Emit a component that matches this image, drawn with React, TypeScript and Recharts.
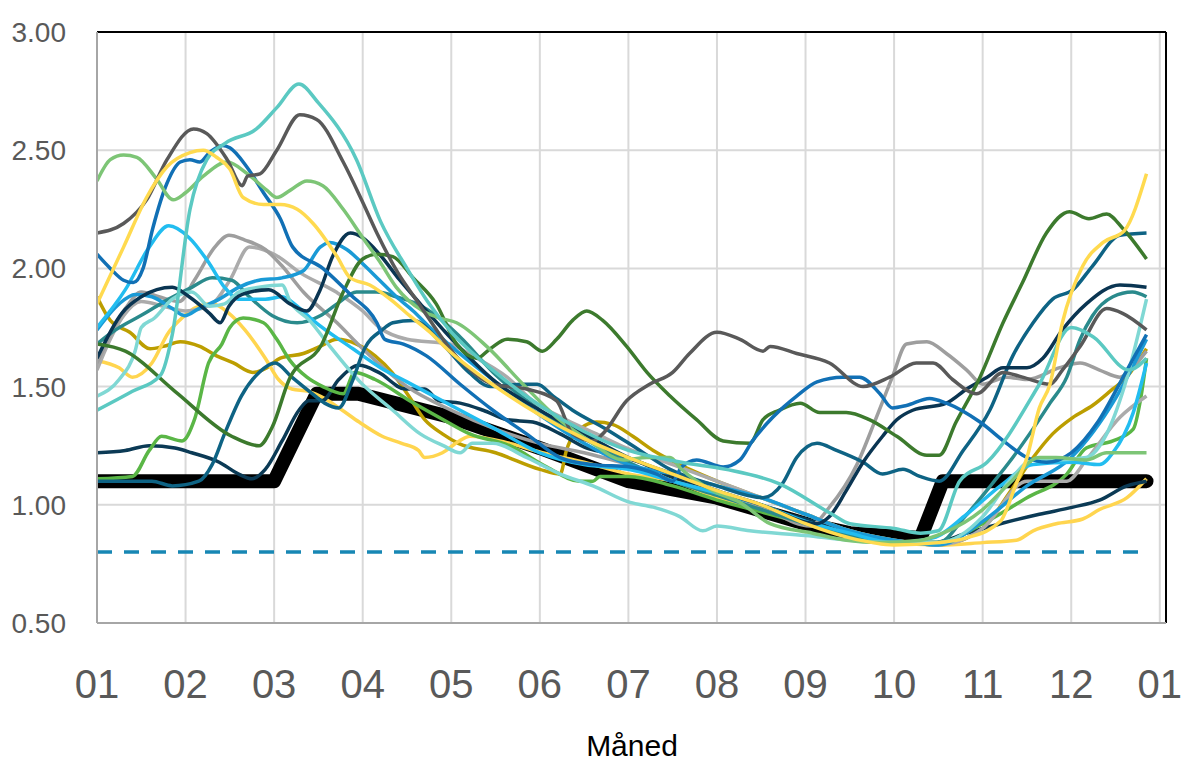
import { CartesianGrid, Line, LineChart, ReferenceLine, XAxis, YAxis } from "recharts"

// month index (0 = 01) -> value
type Pt = [number, number]

const monthTicks = [0, 1, 2, 3, 4, 5, 6, 7, 8, 9, 10, 11, 12]
const monthLabels = ["01", "02", "03", "04", "05", "06", "07", "08", "09", "10", "11", "12", "01"]
const valueTicks = [0.5, 1, 1.5, 2, 2.5, 3]

const threshold: Pt[] = [[0, 0.8], [11.85, 0.8]]

const normal: Pt[] = [
  [0, 1.1], [2.0, 1.1], [2.48, 1.47], [2.95, 1.47], [4.0, 1.37], [5.0, 1.24], [6.0, 1.1],
  [7.0, 1.03], [8.0, 0.92], [8.5, 0.88], [9.3, 0.86], [9.55, 1.1], [11.85, 1.1],
]

const turquoise: Pt[] = [
  [0, 1.4], [0.4, 1.48], [0.72, 1.55], [0.85, 1.72], [1.05, 2.25], [1.24, 2.46], [1.45, 2.53],
  [1.8, 2.59], [2.03, 2.68], [2.28, 2.78], [2.5, 2.7], [2.93, 2.46], [3.2, 2.2], [3.5, 2.0],
  [3.75, 1.85], [4.0, 1.73], [4.5, 1.56], [5.0, 1.42], [5.5, 1.31], [6.0, 1.23], [6.6, 1.18],
  [7.1, 1.15], [7.7, 1.09], [8.3, 0.96], [8.5, 0.92], [9.0, 0.9], [9.3, 0.88], [9.5, 0.89],
  [9.74, 1.1], [10.05, 1.18], [10.64, 1.51], [11.0, 1.75], [11.25, 1.71], [11.65, 1.57], [11.85, 1.62],
]

const darkGray: Pt[] = [
  [0, 2.15], [0.3, 2.19], [0.56, 2.29], [0.79, 2.46], [1.09, 2.59], [1.24, 2.57], [1.47, 2.46],
  [1.64, 2.35], [1.7, 2.39], [1.84, 2.4], [2.03, 2.5], [2.29, 2.65], [2.48, 2.63], [2.78, 2.45],
  [3.0, 2.28], [3.16, 2.15], [3.4, 1.98], [3.6, 1.87], [4.1, 1.61], [4.47, 1.51], [4.85, 1.49],
  [5.19, 1.44], [5.37, 1.3], [5.6, 1.27], [5.71, 1.3], [5.98, 1.44], [6.24, 1.51], [6.5, 1.56],
  [6.69, 1.64], [7.0, 1.73], [7.26, 1.7], [7.52, 1.65], [7.6, 1.67], [7.9, 1.64], [8.27, 1.6],
  [8.65, 1.5], [8.95, 1.54], [9.25, 1.6], [9.44, 1.6], [9.66, 1.53], [9.93, 1.47], [10.23, 1.56],
  [10.45, 1.54], [10.76, 1.51], [10.9, 1.57], [11.1, 1.67], [11.4, 1.83], [11.58, 1.81], [11.85, 1.74],
]

const lightGreen: Pt[] = [
  [0, 2.37], [0.15, 2.46], [0.3, 2.48], [0.45, 2.47], [0.67, 2.38], [0.86, 2.29], [1.0, 2.32],
  [1.2, 2.39], [1.47, 2.45], [1.7, 2.4], [1.92, 2.33], [2.03, 2.3], [2.18, 2.33], [2.37, 2.37],
  [2.55, 2.35], [2.78, 2.25], [3.0, 2.13], [3.19, 2.03], [3.38, 1.92], [3.68, 1.82], [3.87, 1.79],
  [4.06, 1.77], [4.4, 1.67], [4.81, 1.51], [5.19, 1.37], [5.56, 1.27], [5.94, 1.19], [6.21, 1.2],
  [6.47, 1.2], [6.6, 1.15], [6.95, 1.06], [7.26, 1.01], [7.6, 0.92], [8.08, 0.88], [8.46, 0.85],
  [8.84, 0.84], [9.3, 0.85], [9.55, 0.88], [10.0, 0.98], [10.3, 1.09], [10.64, 1.2], [10.83, 1.2],
  [11.17, 1.19], [11.4, 1.22], [11.85, 1.22],
]

const yellow: Pt[] = [
  [0, 1.85], [0.3, 2.09], [0.56, 2.3], [0.79, 2.43], [1.05, 2.49], [1.2, 2.5], [1.35, 2.47],
  [1.5, 2.42], [1.65, 2.3], [1.88, 2.27], [2.07, 2.27], [2.26, 2.25], [2.44, 2.19], [2.71, 2.05],
  [2.86, 1.96], [3.08, 1.93], [3.31, 1.87], [3.53, 1.8], [3.76, 1.73], [3.95, 1.66], [4.5, 1.5],
  [5.0, 1.38], [5.5, 1.28], [6.0, 1.2], [6.5, 1.13], [7.0, 1.06], [7.5, 1.0], [8.0, 0.92],
  [8.5, 0.86], [9.0, 0.83], [9.5, 0.84], [9.82, 0.86], [10.2, 0.93], [10.38, 1.09], [10.5, 1.2],
  [10.64, 1.41], [10.76, 1.51], [10.9, 1.77], [11.13, 2.01], [11.36, 2.11], [11.6, 2.16], [11.85, 2.4],
]

const paleYellow: Pt[] = [
  [0, 1.61], [0.25, 1.58], [0.4, 1.54], [0.62, 1.6], [0.81, 1.73], [0.93, 1.78], [1.15, 1.84],
  [1.3, 1.85], [1.49, 1.81], [1.67, 1.74], [1.9, 1.62], [2.05, 1.53], [2.2, 1.49], [2.39, 1.48],
  [2.57, 1.45], [2.77, 1.4], [2.96, 1.35], [3.22, 1.29], [3.44, 1.26], [3.63, 1.23], [3.7, 1.2],
  [3.9, 1.22], [4.09, 1.27], [4.21, 1.29], [4.66, 1.26], [5.03, 1.22], [5.5, 1.18], [6.0, 1.13],
  [6.5, 1.1], [7.0, 1.03], [7.5, 0.98], [8.0, 0.92], [8.5, 0.88], [9.0, 0.84], [9.5, 0.83],
  [10.0, 0.84], [10.38, 0.85], [10.57, 0.89], [10.83, 0.92], [11.13, 0.94], [11.32, 0.98],
  [11.63, 1.03], [11.85, 1.11],
]

const blue: Pt[] = [
  [0, 2.06], [0.15, 2.0], [0.3, 1.95], [0.41, 1.94], [0.52, 2.0], [0.63, 2.17], [0.79, 2.36],
  [0.94, 2.45], [1.05, 2.46], [1.16, 2.45], [1.27, 2.49], [1.42, 2.52], [1.5, 2.51], [1.69, 2.43],
  [1.88, 2.32], [2.07, 2.21], [2.21, 2.09], [2.55, 2.0], [2.86, 1.89], [3.16, 1.77], [3.25, 1.7],
  [3.46, 1.68], [3.72, 1.63], [4.1, 1.51], [4.47, 1.4], [4.85, 1.3], [5.23, 1.2], [5.6, 1.17],
  [6.02, 1.16], [6.32, 1.13], [6.5, 1.1], [6.6, 1.16], [6.77, 1.19], [7.07, 1.16], [7.26, 1.19],
  [7.4, 1.27], [7.63, 1.37], [7.9, 1.46], [8.13, 1.52], [8.42, 1.54], [8.61, 1.54], [8.84, 1.47],
  [8.98, 1.41], [9.14, 1.42], [9.4, 1.45], [9.59, 1.43], [9.97, 1.35], [10.27, 1.26], [10.5, 1.2],
  [10.72, 1.18], [11.0, 1.22], [11.3, 1.35], [11.6, 1.55], [11.85, 1.72],
]

const skyBlue: Pt[] = [
  [0, 1.75], [0.32, 1.91], [0.59, 2.09], [0.81, 2.18], [1.04, 2.13], [1.27, 2.02], [1.44, 1.92],
  [1.6, 1.87], [1.9, 1.87], [2.09, 1.88], [2.26, 1.84], [2.44, 1.78], [2.89, 1.66], [3.2, 1.58],
  [3.5, 1.52], [4.0, 1.42], [4.5, 1.32], [5.0, 1.22], [5.5, 1.17], [6.0, 1.15], [6.5, 1.1],
  [7.0, 1.05], [7.5, 1.0], [8.0, 0.93], [8.5, 0.88], [9.0, 0.84], [9.44, 0.86], [9.82, 0.96],
  [10.2, 1.08], [10.57, 1.17], [11.02, 1.18], [11.32, 1.17], [11.47, 1.22], [11.7, 1.39], [11.85, 1.6],
]

const midBlue: Pt[] = [
  [0, 1.74], [0.25, 1.85], [0.43, 1.89], [0.62, 1.88], [0.85, 1.83], [0.99, 1.8], [1.15, 1.83],
  [1.38, 1.87], [1.6, 1.92], [1.83, 1.95], [2.09, 1.96], [2.33, 1.99], [2.52, 2.09], [2.63, 2.11],
  [2.82, 2.08], [3.0, 2.02], [3.19, 1.95], [3.38, 1.88], [3.57, 1.82], [3.76, 1.75], [4.0, 1.67],
  [4.5, 1.52], [5.0, 1.38], [5.5, 1.26], [6.0, 1.17], [6.5, 1.13], [7.0, 1.08], [7.5, 1.03],
  [8.0, 0.96], [8.5, 0.89], [9.0, 0.85], [9.5, 0.83], [10.0, 0.93], [10.5, 1.08], [11.0, 1.2],
  [11.5, 1.45], [11.85, 1.7],
]

const gray: Pt[] = [
  [0, 1.6], [0.32, 1.83], [0.5, 1.9], [0.7, 1.88], [0.93, 1.86], [1.1, 1.95], [1.33, 2.09],
  [1.49, 2.14], [1.67, 2.12], [1.9, 2.08], [2.09, 2.01], [2.33, 1.9], [2.71, 1.77], [3.0, 1.66],
  [3.5, 1.5], [4.0, 1.4], [4.5, 1.32], [5.0, 1.26], [5.5, 1.22], [6.0, 1.17], [6.5, 1.1],
  [7.0, 1.05], [7.5, 0.99], [8.05, 0.91], [8.27, 0.99], [8.58, 1.17], [8.8, 1.37], [8.98, 1.54],
  [9.14, 1.68], [9.37, 1.69], [9.59, 1.64], [9.82, 1.57], [10.0, 1.51], [10.27, 1.54], [10.5, 1.53],
  [10.87, 1.58], [11.1, 1.6], [11.32, 1.57], [11.55, 1.54], [11.69, 1.58], [11.85, 1.65],
]

const lightGray: Pt[] = [
  [0, 1.57], [0.1, 1.66], [0.3, 1.8], [0.5, 1.86], [0.75, 1.84], [1.0, 1.82], [1.3, 1.85],
  [1.5, 1.95], [1.72, 2.09], [2.0, 2.06], [2.3, 1.98], [2.7, 1.9], [3.0, 1.82], [3.19, 1.75],
  [3.5, 1.7], [3.98, 1.68], [4.24, 1.63], [4.63, 1.54], [4.92, 1.44], [5.3, 1.36], [5.64, 1.3],
  [5.98, 1.24], [6.5, 1.17], [7.0, 1.1], [7.5, 1.03], [8.0, 0.96], [8.5, 0.89], [9.0, 0.85],
  [9.5, 0.83], [10.0, 0.9], [10.5, 1.1], [10.72, 1.1], [10.95, 1.1], [11.17, 1.19], [11.55, 1.37],
  [11.85, 1.46],
]

const darkGreen: Pt[] = [
  [0, 1.68], [0.32, 1.65], [0.88, 1.48], [1.52, 1.29], [1.83, 1.25], [1.98, 1.33], [2.17, 1.53],
  [2.54, 1.68], [2.78, 1.9], [3.0, 2.04], [3.16, 2.06], [3.34, 2.05], [3.57, 1.96], [3.83, 1.85],
  [4.06, 1.68], [4.29, 1.62], [4.44, 1.66], [4.63, 1.7], [4.85, 1.69], [5.03, 1.65], [5.19, 1.7],
  [5.37, 1.78], [5.53, 1.82], [5.71, 1.78], [5.98, 1.67], [6.21, 1.56], [6.47, 1.46], [6.77, 1.36],
  [7.07, 1.27], [7.37, 1.26], [7.52, 1.36], [7.7, 1.4], [7.94, 1.43], [8.16, 1.39], [8.46, 1.39],
  [8.72, 1.36], [9.03, 1.29], [9.37, 1.21], [9.51, 1.21], [9.7, 1.35], [9.97, 1.54], [10.23, 1.77],
  [10.45, 1.94], [10.72, 2.15], [10.98, 2.24], [11.2, 2.21], [11.4, 2.23], [11.58, 2.17], [11.85, 2.04],
]

const navy: Pt[] = [
  [0, 1.62], [0.28, 1.81], [0.5, 1.88], [0.85, 1.92], [1.04, 1.88], [1.27, 1.81], [1.39, 1.77],
  [1.49, 1.84], [1.64, 1.89], [1.94, 1.91], [2.18, 1.85], [2.37, 1.82], [2.52, 1.91], [2.66, 2.05],
  [2.86, 2.15], [3.0, 2.13], [3.19, 2.06], [3.42, 1.95], [3.65, 1.85], [3.91, 1.74], [4.5, 1.52],
  [5.0, 1.4], [5.5, 1.3], [6.0, 1.2], [6.5, 1.13], [7.0, 1.06], [7.5, 1.0], [8.13, 0.92],
  [8.27, 0.95], [8.46, 1.06], [8.65, 1.18], [8.87, 1.29], [9.03, 1.36], [9.21, 1.4], [9.59, 1.43],
  [9.82, 1.49], [10.05, 1.54], [10.23, 1.58], [10.5, 1.58], [10.68, 1.62], [10.9, 1.74], [11.17, 1.85],
  [11.55, 1.93], [11.85, 1.92],
]

const deepNavy: Pt[] = [
  [0, 1.22], [0.32, 1.23], [0.59, 1.25], [0.88, 1.24], [1.07, 1.22], [1.38, 1.18], [1.6, 1.13],
  [1.75, 1.11], [1.9, 1.15], [2.09, 1.27], [2.28, 1.4], [2.39, 1.44], [2.54, 1.44], [2.73, 1.53],
  [2.96, 1.59], [3.18, 1.56], [3.48, 1.49], [3.7, 1.49], [3.86, 1.44], [4.1, 1.43], [4.36, 1.4],
  [4.63, 1.36], [4.92, 1.35], [5.23, 1.3], [5.53, 1.24], [5.76, 1.22], [6.13, 1.18], [6.47, 1.12],
  [7.0, 1.05], [7.5, 0.99], [8.0, 0.94], [8.5, 0.88], [9.0, 0.84], [9.44, 0.84], [9.82, 0.88],
  [10.2, 0.92], [10.64, 0.96], [11.02, 0.99], [11.32, 1.02], [11.63, 1.08], [11.85, 1.1],
]

const petrol: Pt[] = [
  [0, 1.1], [0.62, 1.1], [0.85, 1.08], [1.15, 1.1], [1.3, 1.17], [1.44, 1.3], [1.63, 1.46],
  [1.83, 1.56], [2.01, 1.6], [2.2, 1.54], [2.43, 1.47], [2.57, 1.43], [2.73, 1.41], [2.88, 1.52],
  [3.02, 1.66], [3.22, 1.74], [3.34, 1.77], [3.57, 1.78], [3.9, 1.68], [4.2, 1.56], [4.44, 1.5],
  [4.81, 1.51], [4.97, 1.51], [5.15, 1.46], [5.37, 1.4], [5.75, 1.32], [6.13, 1.23], [6.47, 1.15],
  [7.0, 1.08], [7.52, 1.03], [7.74, 1.09], [7.9, 1.2], [8.13, 1.26], [8.35, 1.23], [8.65, 1.18],
  [8.87, 1.13], [9.1, 1.15], [9.29, 1.12], [9.51, 1.1], [9.78, 1.23], [10.08, 1.4], [10.34, 1.63],
  [10.57, 1.77], [10.79, 1.87], [11.02, 1.91], [11.24, 2.01], [11.55, 2.14], [11.85, 2.15],
]

const green: Pt[] = [
  [0, 1.11], [0.4, 1.12], [0.59, 1.23], [0.73, 1.29], [0.96, 1.27], [1.1, 1.36], [1.26, 1.6],
  [1.41, 1.68], [1.5, 1.75], [1.65, 1.79], [1.88, 1.77], [2.03, 1.7], [2.18, 1.61], [2.37, 1.54],
  [2.55, 1.5], [2.78, 1.47], [2.91, 1.56], [3.14, 1.53], [3.53, 1.44], [3.91, 1.36], [4.21, 1.3],
  [4.66, 1.25], [5.08, 1.16], [5.45, 1.1], [5.6, 1.1], [5.68, 1.12], [6.0, 1.12], [6.5, 1.08],
  [7.0, 1.02], [7.5, 0.97], [8.0, 0.92], [8.5, 0.87], [9.0, 0.84], [9.5, 0.84], [10.0, 0.92],
  [10.5, 1.03], [10.95, 1.13], [11.17, 1.24], [11.47, 1.27], [11.7, 1.32], [11.78, 1.44], [11.85, 1.62],
]

const olive: Pt[] = [
  [0, 1.88], [0.15, 1.78], [0.37, 1.73], [0.6, 1.66], [0.75, 1.67], [0.94, 1.69], [1.16, 1.67],
  [1.35, 1.63], [1.54, 1.6], [1.76, 1.56], [1.92, 1.58], [2.07, 1.62], [2.33, 1.64], [2.52, 1.67],
  [2.71, 1.7], [2.93, 1.68], [3.14, 1.63], [3.33, 1.56], [3.52, 1.46], [3.7, 1.36], [3.9, 1.3],
  [4.08, 1.26], [4.5, 1.22], [5.0, 1.15], [5.23, 1.13], [5.3, 1.23], [5.45, 1.32], [5.64, 1.35],
  [5.82, 1.34], [6.05, 1.29], [6.28, 1.23], [6.47, 1.19], [7.0, 1.1], [7.5, 1.03], [8.0, 0.96],
  [8.5, 0.89], [9.0, 0.85], [9.5, 0.83], [10.0, 0.9], [10.3, 1.05], [10.57, 1.2], [10.79, 1.3],
  [11.02, 1.37], [11.24, 1.42], [11.47, 1.49], [11.6, 1.53], [11.85, 1.66],
]

const teal: Pt[] = [
  [0, 1.68], [0.17, 1.73], [0.54, 1.81], [0.81, 1.87], [1.07, 1.92], [1.3, 1.96], [1.52, 1.95],
  [1.72, 1.88], [1.98, 1.8], [2.26, 1.77], [2.52, 1.8], [2.71, 1.85], [2.93, 1.9], [3.16, 1.9],
  [3.38, 1.88], [3.61, 1.85], [3.83, 1.8], [4.1, 1.71], [4.5, 1.55], [5.0, 1.4], [5.5, 1.28],
  [6.0, 1.18], [6.5, 1.1], [7.0, 1.04], [7.5, 0.98], [8.0, 0.92], [8.5, 0.87], [9.0, 0.84],
  [9.5, 0.84], [9.8, 0.95], [10.11, 1.09], [10.34, 1.2], [10.53, 1.3], [10.76, 1.43], [10.95, 1.54],
  [11.1, 1.7], [11.24, 1.8], [11.47, 1.88], [11.69, 1.9], [11.85, 1.88],
]

const paleTurquoise: Pt[] = [
  [0, 1.46], [0.25, 1.53], [0.43, 1.65], [0.5, 1.75], [0.65, 1.79], [0.85, 1.87], [1.07, 1.9],
  [1.27, 1.84], [1.44, 1.85], [1.6, 1.9], [1.83, 1.92], [2.09, 1.93], [2.18, 1.86], [2.4, 1.78],
  [2.63, 1.67], [2.97, 1.52], [3.34, 1.4], [3.65, 1.3], [3.91, 1.25], [4.1, 1.22], [4.24, 1.26],
  [4.47, 1.26], [4.85, 1.2], [5.23, 1.13], [5.6, 1.08], [6.02, 1.01], [6.28, 0.99], [6.58, 0.95],
  [6.84, 0.89], [7.0, 0.91], [7.37, 0.89], [8.0, 0.87], [8.5, 0.85], [9.0, 0.84], [9.5, 0.84],
  [10.0, 0.95], [10.3, 1.1], [10.57, 1.19], [10.83, 1.19], [11.17, 1.2], [11.4, 1.3], [11.6, 1.5],
  [11.85, 1.87],
]

const series: { key: string; color: string; points: Pt[] }[] = [
  { key: "olive", color: "#BC9E00", points: olive },
  { key: "paleYellow", color: "#FFD54F", points: paleYellow },
  { key: "deepNavy", color: "#0B3A55", points: deepNavy },
  { key: "green", color: "#5AB646", points: green },
  { key: "lightGray", color: "#ABABAB", points: lightGray },
  { key: "gray", color: "#9E9E9E", points: gray },
  { key: "teal", color: "#2A8A8C", points: teal },
  { key: "midBlue", color: "#1A9AD6", points: midBlue },
  { key: "skyBlue", color: "#22BDF0", points: skyBlue },
  { key: "paleTurquoise", color: "#80D8D4", points: paleTurquoise },
  { key: "petrol", color: "#0E6384", points: petrol },
  { key: "navy", color: "#0A3552", points: navy },
  { key: "darkGreen", color: "#3C7A2D", points: darkGreen },
  { key: "blue", color: "#1170B5", points: blue },
  { key: "lightGreen", color: "#7DC576", points: lightGreen },
  { key: "darkGray", color: "#595959", points: darkGray },
  { key: "turquoise", color: "#5BC9C2", points: turquoise },
  { key: "yellow", color: "#FFDA4F", points: yellow },
]

const rows = (points: Pt[]) => points.map(([m, v]) => ({ m, v }))

const tickFont = "'Liberation Sans', Arial, sans-serif"

function MonthTick({ x, y, payload }: any) {
  return (
    <text x={x} y={y + 67} textAnchor="middle" fontSize={40} fill="#595959" fontFamily={tickFont}>
      {monthLabels[payload.value]}
    </text>
  )
}

function ValueTick({ x, y, payload }: any) {
  return (
    <text x={x - 23} y={y + 10} textAnchor="end" fontSize={28} fill="#595959" fontFamily={tickFont}>
      {payload.value.toFixed(2)}
    </text>
  )
}

export default function App() {
  return (
    <div style={{ position: "absolute", left: 0, top: 0, width: 1184, height: 765, background: "#fff" }}>
      <LineChart width={1184} height={765} margin={{ top: 32, right: 18, left: 0, bottom: 0 }}>
        <CartesianGrid stroke="#D9D9D9" strokeWidth={2} />
        <XAxis
          dataKey="m"
          type="number"
          domain={[0, 12.07]}
          ticks={monthTicks}
          tick={<MonthTick />}
          tickLine={false}
          height={142}
          axisLine={{ stroke: "#A6A6A6", strokeWidth: 2 }}
          allowDataOverflow
        />
        <YAxis
          type="number"
          domain={[0.5, 3]}
          ticks={valueTicks}
          tick={<ValueTick />}
          tickLine={false}
          width={97}
          axisLine={{ stroke: "#A6A6A6", strokeWidth: 2 }}
          allowDataOverflow
        />
        <ReferenceLine y={3} stroke="#000" strokeWidth={2} />
        <ReferenceLine x={12.07} stroke="#000" strokeWidth={2} />
        <Line
          data={rows(threshold)}
          dataKey="v"
          type="linear"
          stroke="#1787B4"
          strokeWidth={3.5}
          strokeDasharray="15 12"
          dot={false}
          isAnimationActive={false}
        />
        <Line
          data={rows(normal)}
          dataKey="v"
          type="linear"
          stroke="#000"
          strokeWidth={14}
          strokeLinecap="round"
          strokeLinejoin="round"
          dot={false}
          isAnimationActive={false}
        />
        {series.map((s) => (
          <Line
            key={s.key}
            data={rows(s.points)}
            dataKey="v"
            type="monotone"
            stroke={s.color}
            strokeWidth={3.5}
            strokeLinejoin="round"
            dot={false}
            isAnimationActive={false}
          />
        ))}
      </LineChart>
      <div
        style={{
          position: "absolute",
          left: 0,
          width: 1264,
          top: 730,
          height: 32,
          lineHeight: "32px",
          textAlign: "center",
          fontFamily: "'Liberation Sans', Arial, sans-serif",
          fontSize: 30,
          color: "#000",
        }}
      >
        Måned
      </div>
    </div>
  )
}
